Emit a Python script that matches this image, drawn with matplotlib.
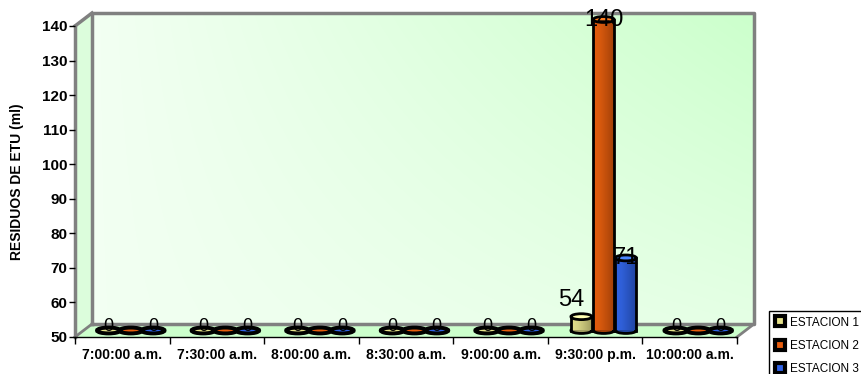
import numpy as np
import matplotlib.pyplot as plt
from matplotlib.patches import Polygon, Ellipse, Rectangle
from matplotlib.lines import Line2D
from matplotlib.colors import to_rgb

plt.rcParams['font.family'] = ['Liberation Sans', 'DejaVu Sans']

horas = ["7:00:00 a.m.", "7:30:00 a.m.", "8:00:00 a.m.", "8:30:00 a.m.",
         "9:00:00 a.m.", "9:30:00 p.m.", "10:00:00 a.m."]
estacion1 = [0, 0, 0, 0, 0, 54, 0]
estacion2 = [0, 0, 0, 0, 0, 140, 0]
estacion3 = [0, 0, 0, 0, 0, 71, 0]
nombres = ["ESTACION 1", "ESTACION 2", "ESTACION 3"]
colores = ["#e6e28a", "#e85c0c", "#2f62e6"]

series = [estacion1, estacion2, estacion3]
ymin, ymax = 50, 140
n = len(horas)

fig = plt.figure(figsize=(8.61, 3.74), dpi=100)
ax = fig.add_axes([75 / 861, 37 / 374, 662 / 861, 311 / 374])
ax.set_xlim(0, n)
ax.set_ylim(ymin, ymax)
ax.patch.set_visible(False)
for s in ax.spines.values():
    s.set_visible(False)

# profundidad del grafico 3D (en unidades de datos)
dx = 17 / (662 / n)
dy = 13 / (311 / (ymax - ymin))

# pared del fondo con degradado
u = np.linspace(0, 1, 80)
U, V = np.meshgrid(u, u)
t = U * (0.35 + 0.65 * V)
c0 = np.array([0.95, 1.0, 0.95])
c1 = np.array([0.80, 1.0, 0.80])
img = c0[None, None, :] * (1 - t[..., None]) + c1[None, None, :] * t[..., None]
fondo = ax.imshow(img, extent=(dx, n + dx, ymin + dy, ymax + dy), origin='lower',
                  aspect='auto', zorder=0, interpolation='bilinear')
fondo.set_clip_on(False)

lado = Polygon([(0, ymin), (0, ymax), (dx, ymax + dy), (dx, ymin + dy)],
               closed=True, facecolor="#dcfddc", edgecolor='none', zorder=0.5, clip_on=False)
ax.add_patch(lado)
piso = Polygon([(0, ymin), (n, ymin), (n + dx, ymin + dy), (dx, ymin + dy)],
               closed=True, facecolor="#ccffcc", edgecolor='none', zorder=0.5, clip_on=False)
ax.add_patch(piso)

gris = "#808080"
ax.plot([dx, dx, n + dx, n + dx, dx], [ymin + dy, ymax + dy, ymax + dy, ymin + dy, ymin + dy],
        color=gris, lw=2.5, zorder=1, clip_on=False)
ax.plot([0, dx], [ymax, ymax + dy], color=gris, lw=2.5, zorder=1, clip_on=False)
ax.plot([0, 0], [ymin, ymax], color=gris, lw=2.5, zorder=1, clip_on=False)
ax.plot([0, dx], [ymin, ymin + dy], color=gris, lw=2, zorder=1, clip_on=False)
ax.plot([n, n + dx], [ymin, ymin + dy], color=gris, lw=2, zorder=1, clip_on=False)
ax.plot([0, n], [ymin, ymin], color="black", lw=1, zorder=1, clip_on=False)

# cilindros
offs = [-0.235, 0.0, 0.235]
bw = 0.222
eh = 1.7
base = ymin + dy / 2
ajuste = {(0, 5): (-10, 17)}

for j, (vals, col) in enumerate(zip(series, colores)):
    rgb = np.array(to_rgb(col))
    claro = np.clip(rgb * 1.15 + 0.08, 0, 1)
    oscuro = rgb * 0.7
    for i, v in enumerate(vals):
        cx = i + 0.5 + offs[j] + dx / 2
        if v <= ymin:
            ax.add_patch(Ellipse((cx, base), bw * 1.1, eh, facecolor=col,
                                 edgecolor='black', lw=2.8, zorder=3, clip_on=False))
            if j != 1:
                ax.text(cx, base + 1.2, str(v), ha='center', va='center',
                        fontsize=13, color='black', zorder=5)
            continue
        top = v + dy / 2
        ax.add_patch(Ellipse((cx, base), bw, eh, facecolor=oscuro,
                             edgecolor='black', lw=2, zorder=2.9, clip_on=False))
        grad = np.linspace(0, 1, 40)
        w = np.where(grad < 0.3, grad / 0.3, 1 - (grad - 0.3) / 0.7)
        cuerpo = np.array([rgb * (1 - g) + oscuro * g for g in grad])
        cuerpo = cuerpo * 0.85 + claro * 0.15 * w[:, None] + cuerpo * 0.15 * (1 - w[:, None])
        cuerpo = np.clip(cuerpo, 0, 1)[None, :, :]
        im = ax.imshow(cuerpo, extent=(cx - bw / 2, cx + bw / 2, base, top),
                       aspect='auto', zorder=3, interpolation='bilinear')
        im.set_clip_on(False)
        ax.plot([cx - bw / 2, cx - bw / 2], [base, top], color='black', lw=2, zorder=3.1,
                clip_on=False)
        ax.plot([cx + bw / 2, cx + bw / 2], [base, top], color='black', lw=2, zorder=3.1,
                clip_on=False)
        ax.add_patch(Ellipse((cx, top), bw, eh, facecolor=claro,
                             edgecolor='black', lw=2, zorder=3.2, clip_on=False))
        ox, oy = ajuste.get((j, i), (0, 0))
        ax.annotate(str(v), (cx, top), xytext=(ox, oy), textcoords='offset pixels',
                    ha='center', va='center', fontsize=17, color='black', zorder=5,
                    annotation_clip=False)

ax.set_xlim(0, n)
ax.set_ylim(ymin, ymax)

ax.set_yticks(np.arange(ymin, ymax + 1, 10))
ax.tick_params(axis='y', length=4, width=1, color='black', pad=1.5, labelsize=11)
for lb in ax.get_yticklabels():
    lb.set_fontweight('bold')

ax.set_xticks(np.arange(0, n + 1))
ax.set_xticklabels([])
ax.set_xticks(np.arange(n) + 0.5, minor=True)
ax.set_xticklabels(horas, minor=True, fontsize=10, fontweight='bold')
ax.tick_params(axis='x', which='major', length=5, width=1, color='black')
ax.tick_params(axis='x', which='minor', length=0, pad=8)

ax.set_ylabel("RESIDUOS DE ETU (ml)", fontsize=10, fontweight='bold')
ax.yaxis.set_label_coords(-(75 - 24) / 662, 0.5)

# leyenda: el marco se sale por la derecha de la figura
marco = Rectangle((769 / 861, -0.1), 0.2, 1.1 - 311 / 374, transform=fig.transFigure,
                  facecolor='white', edgecolor='black', lw=1, zorder=1)
fig.patches.append(marco)
handles = [Line2D([], [], marker='s', linestyle='none', markerfacecolor=c,
                  markeredgecolor='black', markeredgewidth=3, markersize=7.5) for c in colores]
leg = fig.legend(handles, nombres, loc='upper left', bbox_to_anchor=(772 / 861, 1 - 313 / 374),
                 frameon=False, borderaxespad=0, fontsize=8.5, labelspacing=0.95,
                 handlelength=0.8, handletextpad=0.45, borderpad=0.3)
leg.set_zorder(2)

fig.savefig("out.png", dpi=100)
